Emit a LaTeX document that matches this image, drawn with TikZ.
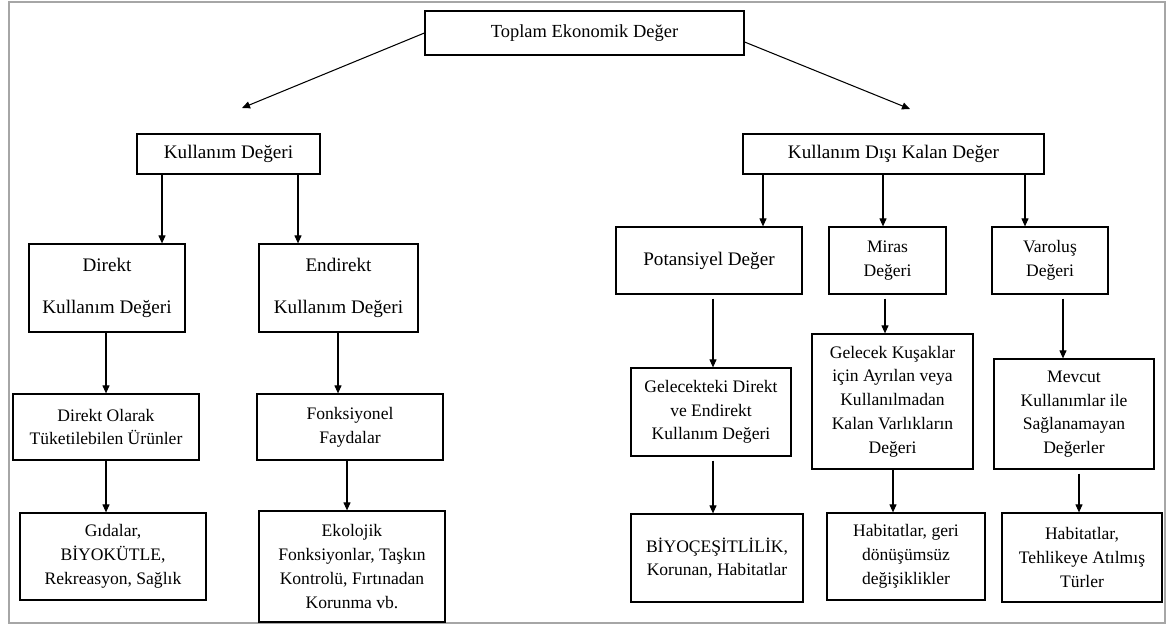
\documentclass[tikz,border=0pt]{standalone}
\usepackage{fontspec}
\setmainfont{Liberation Serif}
\usetikzlibrary{arrows.meta}

\begin{document}
\begin{tikzpicture}[x=0.02cm, y=-0.02cm,
  box/.style={draw, line width=0.7pt, align=center, inner sep=0pt, font=\fontsize{10}{13.5}\selectfont},
  bigbox/.style={box, font=\fontsize{10.9}{13.5}\selectfont},
  wh/.style 2 args={minimum width=#1*0.02cm, minimum height=#2*0.02cm},
  arr/.style={-{Triangle[length=1.6mm,width=1.4mm]}, line width=0.6pt},
  gap/.style={shorten <=0.08cm}]

\useasboundingbox (0,0) rectangle (1171,626);
\draw[gray!70, line width=1.2pt] (9,2) rectangle (1165,623);

% nodes
{
\node[box, wh={319}{44}, font=\fontsize{10.5}{13.5}\selectfont] (total) at (584.5,33) {Toplam Ekonomik Değer};

\node[bigbox, wh={183}{40}] (use) at (228.5,154) {Kullanım Değeri};
\node[bigbox, wh={301}{40}] (nonuse) at (893.5,154) {Kullanım Dışı Kalan Değer};

\node[bigbox, wh={156}{88}] (direct) at (107,288) {Direkt\\[10pt]Kullanım Değeri};
\node[bigbox, wh={159}{88}] (indirect) at (338.5,288) {Endirekt\\[10pt]Kullanım Değeri};
\node[box, wh={186}{66}] (consum) at (106,427) {Direkt Olarak\\Tüketilebilen Ürünler};
\node[box, wh={186}{66}] (func) at (350,427) {Fonksiyonel\\Faydalar};
\node[box, wh={186}{87}] (food) at (113,556.5) {Gıdalar,\\BİYOKÜTLE,\\Rekreasyon, Sağlık};
\node[box, wh={186}{111}] (eco) at (352,566.5) {Ekolojik\\Fonksiyonlar, Taşkın\\Kontrolü, Fırtınadan\\Korunma vb.};

\node[bigbox, wh={186}{67}] (potential) at (709,260.5) {Potansiyel Değer};
\node[box, wh={117}{67}] (bequest) at (887.5,260.5) {Miras\\Değeri};
\node[box, wh={116}{67}] (exist) at (1050,260.5) {Varoluş\\Değeri};

\node[box, wh={160}{88}] (future) at (711,412) {Gelecekteki Direkt\\ve Endirekt\\Kullanım Değeri};
\node[box, wh={161}{135}] (heirs) at (892.5,401.5) {Gelecek Kuşaklar\\için Ayrılan veya\\Kullanılmadan\\Kalan Varlıkların\\Değeri};
\node[box, wh={160}{110}] (unmet) at (1074,414) {Mevcut\\Kullanımlar ile\\Sağlanamayan\\Değerler};

\node[box, wh={172}{88}] (bio) at (717,558) {BİYOÇEŞİTLİLİK,\\Korunan, Habitatlar};
\node[box, wh={158}{87}] (habit) at (906,556.5) {Habitatlar, geri\\dönüşümsüz\\değişiklikler};
\node[box, wh={160}{89}] (species) at (1082,557.5) {Habitatlar,\\Tehlikeye Atılmış\\Türler};
}

% arrows
{
\coordinate (usetip) at (242,108);
\coordinate (nonusetip) at (910,109);
\draw[arr] (total.west) -- (usetip);
\draw[arr] (total.east |- 0,42) -- (nonusetip);

\draw[arr] (use.south -| 162,0) -- (direct.north -| 162,0);
\draw[arr] (use.south -| 298,0) -- (indirect.north -| 298,0);
\draw[arr] (direct.south -| 106,0) -- (consum.north -| 106,0);
\draw[arr] (indirect.south -| 338,0) -- (func.north -| 338,0);
\draw[arr] (consum.south -| 106,0) -- (food.north -| 106,0);
\draw[arr] (func.south -| 347,0) -- (eco.north -| 347,0);

\draw[arr] (nonuse.south -| 763,0) -- (potential.north -| 763,0);
\draw[arr] (nonuse.south -| 883,0) -- (bequest.north -| 883,0);
\draw[arr] (nonuse.south -| 1025,0) -- (exist.north -| 1025,0);
\draw[arr, gap] (potential.south -| 713,0) -- (future.north -| 713,0);
\draw[arr, gap] (bequest.south -| 885,0) -- (heirs.north -| 885,0);
\draw[arr, gap] (exist.south -| 1063,0) -- (unmet.north -| 1063,0);
\draw[arr, gap] (future.south -| 713,0) -- (bio.north -| 713,0);
\draw[arr] (heirs.south -| 893,0) -- (habit.north -| 893,0);
\draw[arr, gap] (unmet.south -| 1079,0) -- (species.north -| 1079,0);
}

\end{tikzpicture}
\end{document}
